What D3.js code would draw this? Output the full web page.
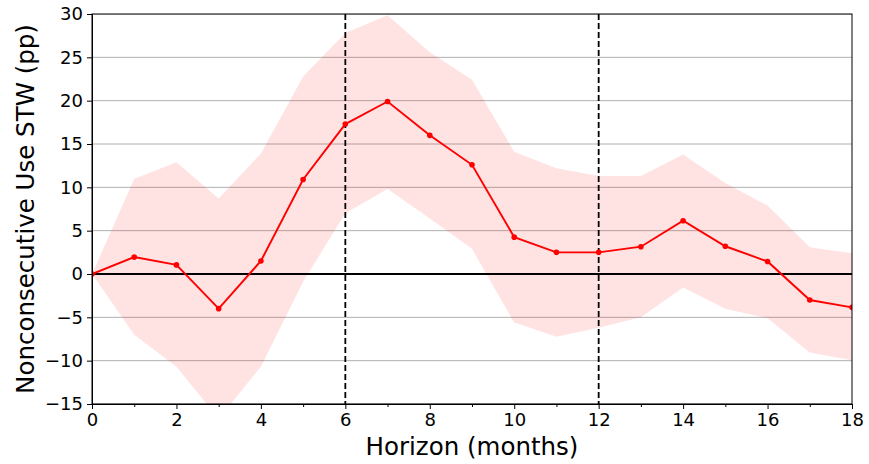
<!DOCTYPE html>
<html>
<head>
<meta charset="utf-8">
<title>Nonconsecutive Use STW</title>
<script src="https://d3js.org/d3.v7.min.js"></script>
<style>
  body { margin: 0; background: #fff; }
  text { font-family: 'DejaVu Sans', sans-serif; fill: #000; }
</style>
</head>
<body>
<div id="chart"></div>
<script>
  // data
  var horizons = d3.range(0, 19);
  var estimate = [0, 1.95, 1.05, -4.0, 1.5, 10.9, 17.3, 19.9, 16.0, 12.6, 4.25, 2.5, 2.5, 3.15, 6.15, 3.2, 1.45, -3.0, -3.85];
  var upperBand = [0, 11.0, 12.9, 8.7, 13.9, 22.8, 27.8, 29.85, 25.6, 22.4, 14.1, 12.2, 11.3, 11.3, 13.8, 10.5, 7.9, 3.1, 2.4];
  var lowerBand = [0, -7.0, -10.7, -16.7, -10.7, -0.9, 7.0, 9.8, 6.4, 2.9, -5.6, -7.25, -6.2, -5.0, -1.55, -4.0, -5.1, -9.05, -9.95];
  var yTicks = [-15, -10, -5, 0, 5, 10, 15, 20, 25, 30];
  var xTicks = [0, 2, 4, 6, 8, 10, 12, 14, 16, 18];
  var xMinorTicks = [1, 3, 5, 7, 9, 11, 13, 15, 17];
  var markerLines = [6, 12];

  var margin = { top: 14, right: 17, bottom: 60, left: 92 },
    width = 869 - margin.left - margin.right,
    height = 464 - margin.top - margin.bottom;

  var svg = d3.select("#chart")
    .append("svg")
    .attr("width", 869)
    .attr("height", 464);

  var g = svg.append("g")
    .attr("transform", "translate(" + margin.left + "," + margin.top + ")");

  var x = d3.scaleLinear().domain([0, 18]).range([0, width]);
  var y = d3.scaleLinear().domain([-15, 30]).range([height, 0]);

  g.append("clipPath").attr("id", "plotclip")
    .append("rect").attr("width", width).attr("height", height);

  var plot = g.append("g").attr("clip-path", "url(#plotclip)");

  // grid
  plot.selectAll(".grid")
    .data(yTicks)
    .enter().append("line")
    .attr("x1", 0).attr("x2", width)
    .attr("y1", function (d) { return y(d); })
    .attr("y2", function (d) { return y(d); })
    .attr("stroke", "#b0b0b0")
    .attr("stroke-width", 1);

  // confidence band
  var area = d3.area()
    .x(function (d, i) { return x(horizons[i]); })
    .y0(function (d, i) { return y(lowerBand[i]); })
    .y1(function (d, i) { return y(upperBand[i]); });

  plot.append("path")
    .datum(horizons)
    .attr("d", area)
    .attr("fill", "red")
    .attr("fill-opacity", 0.11);

  // zero line
  plot.append("line")
    .attr("x1", 0).attr("x2", width)
    .attr("y1", y(0)).attr("y2", y(0))
    .attr("stroke", "#000")
    .attr("stroke-width", 1.8);

  // dashed vertical lines
  plot.selectAll(".vline")
    .data(markerLines)
    .enter().append("line")
    .attr("x1", function (d) { return x(d); })
    .attr("x2", function (d) { return x(d); })
    .attr("y1", 0).attr("y2", height)
    .attr("stroke", "#000")
    .attr("stroke-width", 1.8)
    .attr("stroke-dasharray", "6,3");

  // estimate line
  var line = d3.line()
    .x(function (d, i) { return x(horizons[i]); })
    .y(function (d) { return y(d); });

  plot.append("path")
    .datum(estimate)
    .attr("d", line)
    .attr("fill", "none")
    .attr("stroke", "red")
    .attr("stroke-width", 1.9);

  plot.selectAll(".dot")
    .data(estimate)
    .enter().append("circle")
    .attr("cx", function (d, i) { return x(horizons[i]); })
    .attr("cy", function (d) { return y(d); })
    .attr("r", 2.8)
    .attr("fill", "red");

  // axes
  g.append("g")
    .attr("transform", "translate(0," + height + ")")
    .call(d3.axisBottom(x).tickValues(xTicks).tickSize(5).tickPadding(4).tickFormat(d3.format("d")));

  g.append("g")
    .attr("transform", "translate(0," + height + ")")
    .call(d3.axisBottom(x).tickValues(xMinorTicks).tickSize(3).tickFormat(""))
    .select(".domain").remove();

  g.append("g")
    .call(d3.axisLeft(y).tickValues(yTicks).tickSize(5).tickPadding(4)
      .tickFormat(function (d) { return d < 0 ? "\u2212" + Math.abs(d) : d; }));

  g.selectAll(".tick text").attr("font-size", 18).attr("font-family", "'DejaVu Sans', sans-serif");
  g.selectAll(".tick line").attr("stroke", "#000");
  g.selectAll(".domain").attr("stroke", "#000");

  // frame
  g.append("rect")
    .attr("width", width).attr("height", height)
    .attr("fill", "none")
    .attr("stroke", "#000")
    .attr("stroke-width", 1);

  // labels
  svg.append("text")
    .attr("x", margin.left + width / 2)
    .attr("y", 455)
    .attr("text-anchor", "middle")
    .attr("font-size", 24.5)
    .text("Horizon (months)");

  svg.append("text")
    .attr("transform", "translate(34," + (margin.top + height / 2) + ") rotate(-90)")
    .attr("text-anchor", "middle")
    .attr("font-size", 24.5)
    .text("Nonconsecutive Use STW (pp)");
</script>
</body>
</html>
